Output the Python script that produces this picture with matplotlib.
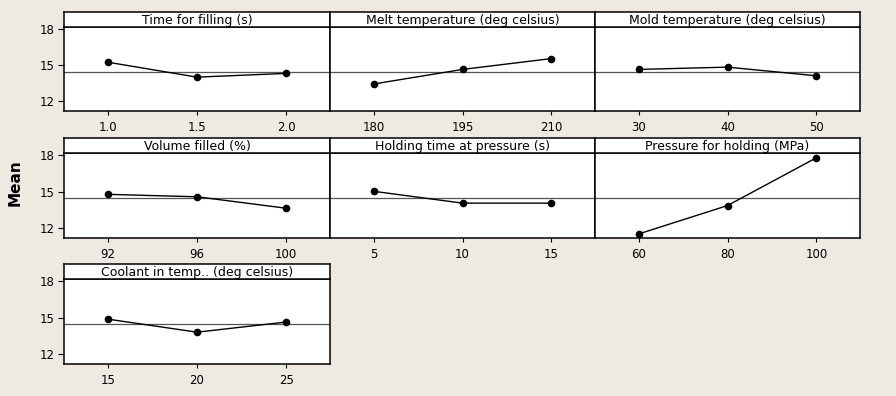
import matplotlib
matplotlib.use('Agg')
from matplotlib import pyplot as plt

# factor names, levels and level means (main effects)
titles = ['Time for filling (s)', 'Melt temperature (deg celsius)', 'Mold temperature (deg celsius)',
          'Volume filled (%)', 'Holding time at pressure (s)', 'Pressure for holding (MPa)',
          'Coolant in temp.. (deg celsius)']

time_levels = [1.0, 1.5, 2.0]
melt_levels = [180, 195, 210]
mold_levels = [30, 40, 50]
volume_levels = [92, 96, 100]
holdtime_levels = [5, 10, 15]
pressure_levels = [60, 80, 100]
coolant_levels = [15, 20, 25]

time_means = [15.25, 14.01, 14.32]
melt_means = [13.44, 14.65, 15.55]
mold_means = [14.65, 14.84, 14.12]
volume_means = [14.78, 14.58, 13.64]
holdtime_means = [15.03, 14.06, 14.06]
pressure_means = [11.53, 13.86, 17.78]
coolant_means = [14.88, 13.81, 14.64]

time_labels = ['1.0', '1.5', '2.0']
grand_mean = 14.45
y_ticks = [12, 15, 18]

levels = [time_levels, melt_levels, mold_levels, volume_levels, holdtime_levels, pressure_levels, coolant_levels]
means = [time_means, melt_means, mold_means, volume_means, holdtime_means, pressure_means, coolant_means]
tick_labels = [time_labels] + [[str(v) for v in lv] for lv in levels[1:]]

W, H = 896, 396
bg = '#eeeae2'
cols = [(64, 330), (330, 595), (595, 860)]
rows = [(12, 27, 111), (138, 153, 238), (264, 279, 364)]

fig = plt.figure(figsize=(W / 100, H / 100), dpi=100, facecolor=bg)


def px_axes(left, top, right, bottom):
    return fig.add_axes([left / W, 1 - bottom / H, (right - left) / W, (bottom - top) / H])


for i in range(7):
    r, c = divmod(i, 3)
    left, right = cols[c]
    top, strip_bottom, bottom = rows[r]

    ax = px_axes(left, strip_bottom, right, bottom)
    lv = levels[i]
    span = lv[-1] - lv[0]
    ax.axhline(grand_mean, color='#555555', lw=0.9, zorder=1)
    ax.plot(lv, means[i], color='black', lw=1.0, marker='o', ms=4.5, zorder=3)
    ax.set_xlim(lv[0] - 0.245 * span, lv[-1] + 0.245 * span)
    ax.set_ylim(11.2, 18.17)
    ax.set_xticks(lv)
    ax.set_xticklabels(tick_labels[i], fontsize=8.5)
    ax.tick_params(axis='x', length=3, width=0.8, pad=4)
    if c == 0:
        ax.set_yticks(y_ticks)
        ax.set_yticklabels([str(t) for t in y_ticks], fontsize=8.5)
        ax.tick_params(axis='y', length=4, width=0.8, pad=3)
    else:
        ax.set_yticks([])
    for s in ax.spines.values():
        s.set_linewidth(1.1)

    sax = px_axes(left, top, right, strip_bottom)
    sax.set_xticks([])
    sax.set_yticks([])
    for s in sax.spines.values():
        s.set_linewidth(1.1)
    sax.text(0.5, 0.45, titles[i], ha='center', va='center', fontsize=9, transform=sax.transAxes)

fig.text(15 / W, 1 - 183 / H, 'Mean', rotation=90, ha='center', va='center', fontsize=11,
         fontweight='bold', family=['Liberation Sans Narrow', 'DejaVu Sans'])

fig.savefig('out.png', dpi=100, facecolor=bg)
